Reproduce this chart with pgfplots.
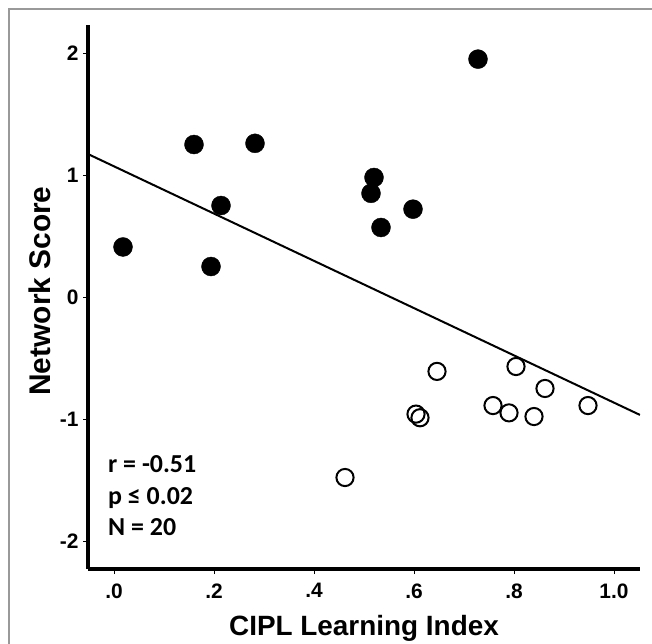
\documentclass[border=0pt]{standalone}
\usepackage{pgfplots}
\pgfplotsset{compat=1.18}
\usepackage{fontspec}
\setmainfont{Liberation Sans}
\newfontfamily\calibri{Carlito}
\begin{document}
\begin{tikzpicture}
\useasboundingbox (0bp,0bp) rectangle (652bp,644bp);
\draw[gray!80, line width=1.3bp] (9bp,-5bp) -- (9bp,635bp) -- (660bp,635bp);
\begin{axis}[
  at={(88bp,75bp)}, anchor=south west,
  scale only axis, width=552bp, height=544bp,
  xmin=-0.052, xmax=1.052, ymin=-2.23, ymax=2.23,
  axis x line*=bottom, axis y line*=left,
  axis line style={line width=3bp, -},
  tick align=outside, major tick length=5bp,
  tick style={line width=0.8bp, black},
  xtick={0,0.2,0.4,0.6,0.8,1.0},
  xticklabels={.0,.2,.4,.6,.8,1.0},
  ytick={-2,-1,0,1,2},
  yticklabels={-2,-1,0,1,2},
  ticklabel style={font=\fontsize{21}{21}\selectfont\bfseries},
  xticklabel style={yshift=-6bp},
  yticklabel style={xshift=-1bp},
  xlabel={CIPL Learning Index},
  ylabel={Network Score},
  xlabel style={font=\fontsize{28}{28}\selectfont\bfseries, at={(axis description cs:0.5,0)}, anchor=center, yshift=-59bp},
  ylabel style={font=\fontsize{30}{30}\selectfont\bfseries, at={(axis description cs:-0.087,0.511)}, anchor=center, rotate=0},
]
% regression line
\addplot[black, line width=2bp] coordinates {(-0.052,1.172) (1.052,-0.967)};
% filled points
\addplot[only marks, mark=*, mark size=9.5bp, black, mark options={fill=black}] coordinates {
 (0.018,0.41) (0.160,1.25) (0.214,0.75) (0.194,0.25) (0.282,1.26)
 (0.520,0.98) (0.514,0.85) (0.534,0.57) (0.598,0.72) (0.728,1.95)
};
% open points
\addplot[only marks, mark=o, mark size=8.6bp, black, mark options={line width=2bp, fill=white}] coordinates {
 (0.462,-1.48) (0.646,-0.61) (0.604,-0.96) (0.612,-0.99) (0.804,-0.57)
 (0.758,-0.89) (0.790,-0.95) (0.862,-0.75) (0.840,-0.98) (0.948,-0.89)
};
\node[anchor=base west, inner sep=0pt, font=\calibri\fontsize{26}{26}\selectfont\bfseries] at (axis cs:-0.012,-1.44) {r = -0.51};
\node[anchor=base west, inner sep=0pt, font=\calibri\fontsize{26}{26}\selectfont\bfseries] at (axis cs:-0.012,-1.705) {p ≤ 0.02};
\node[anchor=base west, inner sep=0pt, font=\calibri\fontsize{26}{26}\selectfont\bfseries] at (axis cs:-0.012,-1.959) {N = 20};
\end{axis}
\end{tikzpicture}
\end{document}
